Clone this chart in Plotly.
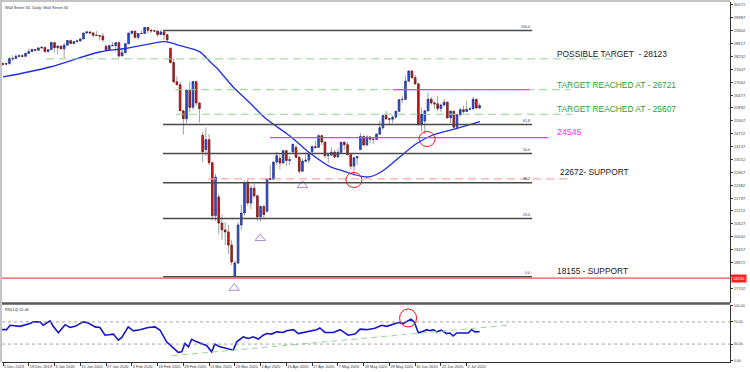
import plotly.graph_objects as go

# ---------------- data ----------------
bar_open = [27900, 27880, 27910, 28130, 28140, 28235, 28265, 28240, 28375, 28460,
            28550, 28515, 28620, 28645, 28460, 28540, 28860, 28630, 28700, 28580,
            28745, 28955, 28825, 28905, 28940, 29030, 29300, 29345, 29300, 29196,
            29180, 29160, 28700, 28540, 28725, 28730, 28860, 28260, 28400, 28810,
            29290, 29380, 29100, 29280, 29280, 29550, 29420, 29400, 29390, 29230,
            29350, 29220, 28600, 27960, 27080, 26950, 25760, 25400, 26700, 25920,
            27090, 26120, 24650, 24000, 24450, 23400, 21000, 21850, 20660, 20350,
            20260, 19660, 18260, 18845, 20573, 21118, 22527, 21573, 22250, 21900,
            20944, 21413, 21200, 22680, 22654, 23434, 23600, 23390, 23950, 23505,
            23900, 24100, 23650, 23019, 23475, 23516, 23900, 24134, 24101, 24634,
            24346, 23724, 23750, 23883, 23664, 23875, 24331, 24221, 23765, 23248,
            23625, 24000, 24597, 24207, 24576, 24474, 24465, 24700, 24995, 25548,
            25401, 25383, 25475, 25742, 26270, 26282, 27111, 27572, 27272, 26990,
            25128, 25300, 25763, 26290, 26120, 26080, 25871, 26025, 26156, 25446,
            25745, 25016, 25596, 25813, 25735, 25827, 25850, 26287, 25890]
bar_high = [27960, 27950, 28225, 28290, 28340, 28320, 28330, 28380, 28590, 28580,
            28570, 28630, 28700, 28660, 28550, 28880, 28870, 28720, 28730, 28860,
            28980, 29010, 28910, 29010, 29060, 29300, 29370, 29360, 29340, 29390,
            29200, 29310, 28760, 28780, 28890, 28890, 28900, 28570, 28850, 29320,
            29410, 29390, 29280, 29420, 29570, 29560, 29460, 29440, 29400, 29450,
            29400, 29230, 28640, 28150, 27330, 27100, 25800, 26710, 27100, 27100,
            27100, 26130, 24800, 25000, 24700, 23450, 22900, 22000, 21050, 20700,
            20570, 19900, 18950, 20700, 21500, 22600, 22650, 22400, 22450, 21950,
            21480, 21500, 22700, 23300, 23450, 23900, 23780, 24000, 23980, 23700,
            24260, 24200, 23700, 23600, 23900, 23800, 24200, 24400, 24700, 24650,
            24350, 23800, 24100, 24000, 24050, 24350, 24370, 24350, 23800, 23700,
            23700, 24750, 24650, 24650, 24600, 24500, 24750, 25300, 25600, 25750,
            25450, 25550, 25750, 26300, 26450, 27330, 27580, 27600, 27400, 27000,
            25900, 25800, 26600, 26400, 26200, 26450, 26100, 26300, 26160, 25800,
            25750, 25600, 25900, 26000, 26200, 25950, 26400, 26300, 26100]
bar_low = [27820, 27830, 27860, 28030, 28135, 28200, 28200, 28220, 28370, 28450,
           28480, 28510, 28600, 28400, 28380, 28530, 28420, 28340, 28560, 28150,
           28740, 28800, 28780, 28880, 28900, 29020, 29270, 29280, 29100, 29170,
           28950, 28890, 28440, 28500, 28700, 28450, 28170, 28250, 28390, 28800,
           29220, 29050, 29000, 29240, 29270, 29300, 29320, 29330, 29140, 29220,
           28990, 28860, 27900, 27020, 26880, 25760, 24680, 25200, 25700, 25800,
           25980, 25230, 23430, 23700, 23300, 20800, 20750, 20150, 19900, 19650,
           19250, 18750, 18209, 18800, 20350, 21000, 21450, 21300, 21800, 20750,
           20735, 20860, 21150, 22600, 22600, 23300, 23100, 23350, 23250, 23300,
           23850, 23600, 22900, 23000, 23400, 23380, 23850, 24050, 24100, 24200,
           23600, 23400, 23700, 23600, 23660, 23860, 24000, 23750, 23100, 22800,
           23300, 23980, 24180, 24200, 24300, 24250, 24460, 24700, 24900, 25350,
           25100, 25200, 25400, 25740, 26100, 26280, 27100, 27200, 26950, 25100,
           24843, 24700, 25750, 26050, 25850, 25750, 25700, 25950, 25400, 25200,
           24950, 24900, 25500, 25650, 25700, 25780, 25840, 25880, 25850]
bar_close = [27881, 27911, 28132, 28135, 28235, 28267, 28239, 28377, 28455, 28551,
             28515, 28621, 28645, 28462, 28538, 28868, 28634, 28703, 28583, 28745,
             28956, 28824, 28907, 28940, 29030, 29298, 29348, 29300, 29196, 29186,
             29160, 28990, 28536, 28723, 28734, 28859, 28256, 28400, 28808, 29290,
             29380, 29103, 29276, 29276, 29551, 29424, 29398, 29390, 29232, 29348,
             29219, 28992, 27961, 27081, 26957, 25767, 25409, 26703, 25917, 27091,
             26121, 25865, 23900, 24450, 23400, 21000, 22750, 20660, 20350, 20260,
             19660, 18890, 18845, 20573, 21118, 22482, 21573, 22250, 21900, 20944,
             21413, 21053, 22680, 22654, 23434, 23719, 23390, 23950, 23505, 23538,
             24242, 23650, 23019, 23475, 23516, 23775, 24134, 24101, 24634, 24346,
             23724, 23750, 23883, 23664, 23875, 24331, 24221, 23765, 23248, 23625,
             23685, 24597, 24207, 24576, 24474, 24465, 24700, 24995, 25548, 25401,
             25383, 25475, 25742, 26270, 26282, 27111, 27572, 27272, 26990, 25128,
             25606, 25763, 26290, 26120, 26080, 25871, 26025, 26156, 25446, 25745,
             25016, 25596, 25813, 25735, 25827, 25850, 26287, 25890, 26000]
bar_index = list(range(len(bar_close)))

ma_index = [0, 14.6, 30, 38, 45.7, 50.3, 55, 61, 64.3, 66.4, 71.5, 76.7, 81.4,
            89.1, 95.3, 101.6, 104.7, 107.8, 111.8, 114, 118, 123.3, 128.6, 133.5,
            141, 148.1]
ma_value = [27300, 27754, 28436, 28595, 28800, 28904, 28722, 28450, 27995, 27708,
            26845, 26118, 25436, 24618, 23845, 23223, 23073, 22923, 22768, 22768,
            23041, 23677, 24286, 24663, 24968, 25268]

rsi_index = [-0.9, 1.1, 2.2, 5.3, 8.4, 9.4, 11.5, 12.5, 14.6, 15.6, 17.2, 19.3, 20.8,
             22.4, 24.9, 26.5, 28.6, 30.1, 31.7, 33.2, 34.3, 35.8, 36.9, 38.9, 40.5,
             42.5, 45.1, 47.2, 48.8, 50.8, 52.9, 54.4, 55.5, 56.5, 57.6, 58.6, 60.2,
             61.7, 63.3, 64.8, 65.8, 67.4, 69.5, 71.5, 72.6, 74.6, 76.2, 77.7, 79.3,
             80.8, 81.9, 83.4, 85.0, 87.0, 88.1, 90.2, 91.7, 94.3, 97.4, 98.4, 100.0,
             102.6, 104.7, 107.2, 109.3, 110.9, 112.9, 115.5, 117.6, 119.2, 120.7,
             122.8, 124.3, 125.9, 126.7, 127.7, 129.0, 130.0, 131.6, 132.6, 133.6,
             134.7, 136.2, 137.8, 138.8, 139.8, 140.9, 142.5, 144.5, 145.5, 146.6, 148.0]
rsi_value = [56, 56, 64, 62, 67, 70, 70, 64, 72, 62, 50.5, 65, 60, 62, 70, 68, 61, 60,
             46, 47, 48, 37, 42, 61, 54, 56, 60, 61, 55, 34, 22, 15, 16, 31, 25, 38.6,
             34, 30, 27, 16, 30, 25, 22, 19, 34, 43, 40, 43, 39, 46, 49, 48, 52, 51,
             54, 56, 49, 52, 56, 59, 51, 51, 56, 46, 48, 57, 56, 58.5, 64, 62, 65, 69,
             67, 73, 75, 70, 50.5, 52, 56, 54, 56, 52, 55, 49, 50, 44.6, 50, 50, 50,
             56, 52, 52.46]

date_tick_index = [0, 8, 16, 24, 32, 40, 48, 56, 64, 72, 80, 88, 96, 104, 112, 120,
                   128, 136, 144]
date_tick_label = ["5 Dec 2019", "19 Dec 2019", "3 Jan 2020", "15 Jan 2020",
                   "27 Jan 2020", "6 Feb 2020", "18 Feb 2020", "28 Feb 2020",
                   "11 Mar 2020", "23 Mar 2020", "2 Apr 2020", "16 Apr 2020",
                   "27 Apr 2020", "7 May 2020", "19 May 2020", "29 May 2020",
                   "10 Jun 2020", "22 Jun 2020", "2 Jul 2020"]

price_ticks = [30572, 29987, 29402, 28817, 28232, 27647, 27062, 26477, 25892, 25307,
               24722, 24137, 23552, 22967, 22382, 21797, 21212, 20627, 20042, 19457,
               18872, 18287, 17702]
price_tick_label = ["30572", "29987", "29402", "28817", "28232", "27647", "27062",
                    "26477", "25892", "25307", "24722", "24137", "23552", "22967",
                    "22382", "21797", "21212", "20627", "20042", "19457", "18872",
                    "", "17702"]  # 18287 is hidden behind the red price box
rsi_ticks = [0, 30, 70, 100]
rsi_tick_label = ["0.00", "30.00", "70.00", "100.00"]

fib_prices = [29410, 25137, 23817, 22497, 20864, 18224]
fib_labels = ["100.0", "61.8", "50.0", "38.2", "23.6", "0.0"]

target_possible = 28123
target_reached_1 = 26721
target_reached_2 = 25607
level_24545 = 24545
support_22672 = 22672
support_18155 = 18155

rsi_trend_index = [52.5, 157.5]
rsi_trend_value = [9, 64.4]

triangle_index = [71.8, 79.9, 93.0]
triangle_price = [17710, 19968, 22377]

circle_index = [109.0, 131.7]
circle_price = [22618, 24482]
rsi_circle_index = [125.8]
rsi_circle_value = [77.1]

# ---------------- figure ----------------
FONT = "Liberation Sans, Arial, sans-serif"
X_RANGE = [-0.31, 225.78]

fig = go.Figure()

# wicks (gray)
fig.add_trace(go.Candlestick(
    x=bar_index, open=bar_open, high=bar_high, low=bar_low, close=bar_close,
    xaxis="x", yaxis="y", whiskerwidth=0, hoverinfo="skip", showlegend=False,
    increasing=dict(line=dict(color="#a0a0a0", width=1), fillcolor="#a0a0a0"),
    decreasing=dict(line=dict(color="#a0a0a0", width=1), fillcolor="#a0a0a0")))
# bodies (coloured)
body_hi = [max(o, c) for o, c in zip(bar_open, bar_close)]
body_lo = [min(o, c) for o, c in zip(bar_open, bar_close)]
fig.add_trace(go.Candlestick(
    x=bar_index, open=bar_open, high=body_hi, low=body_lo, close=bar_close,
    xaxis="x", yaxis="y", whiskerwidth=0, hoverinfo="skip", showlegend=False,
    increasing=dict(line=dict(color="#1a2c9a", width=0.6), fillcolor="#2d55d6"),
    decreasing=dict(line=dict(color="#7a0a0a", width=0.6), fillcolor="#d41a1a")))

# moving average
fig.add_trace(go.Scatter(x=ma_index, y=ma_value, mode="lines", line_shape="spline",
                         line=dict(color="#1f2ee6", width=1.3), hoverinfo="skip",
                         showlegend=False, xaxis="x", yaxis="y"))

# triangles
fig.add_trace(go.Scatter(x=triangle_index, y=triangle_price, mode="markers",
                         marker=dict(symbol="triangle-up-open", size=9,
                                     color="#a98bd8", line=dict(width=1)),
                         hoverinfo="skip", showlegend=False, xaxis="x", yaxis="y"))

# RSI
fig.add_trace(go.Scatter(x=rsi_index, y=rsi_value, mode="lines",
                         line=dict(color="#1515cc", width=1.6), hoverinfo="skip",
                         showlegend=False, xaxis="x2", yaxis="y2"))
fig.add_trace(go.Scatter(x=rsi_trend_index, y=rsi_trend_value, mode="lines",
                         line=dict(color="#9ad69a", width=1, dash="6px,4px"),
                         hoverinfo="skip", showlegend=False, xaxis="x2", yaxis="y2"))

shapes = []
annotations = []

def hline(y, x0, x1, color, width=1, dash="solid", yref="y", xref="x"):
    shapes.append(dict(type="line", xref=xref, yref=yref, x0=x0, x1=x1, y0=y, y1=y,
                       line=dict(color=color, width=width, dash=dash), layer="above"))

# fib lines
for p, lab in zip(fib_prices, fib_labels):
    hline(p, 49.7, 164.3, "#4a4a4a", 1.5)
    annotations.append(dict(x=164.3, y=p, xref="x", yref="y", text=lab, showarrow=False,
                            xanchor="right", yanchor="bottom", yshift=0,
                            font=dict(family=FONT, size=3.6, color="#333")))

GREEN_LINE = "#8fd18f"
hline(target_possible, 13.4, 190.7, GREEN_LINE, 1, "8px,5px")
hline(target_reached_1, 53.4, 176.1, GREEN_LINE, 1, "8px,5px")
hline(target_reached_2, 53.7, 176.7, GREEN_LINE, 1, "8px,5px")
hline(target_reached_1, 121.1, 163.4, "#ff33ff", 1.2)
hline(level_24545, 82.9, 169.3, "#ff33ff", 1.2)
hline(support_22672, 63.7, 176.4, "#f7a8a8", 1.2, "8px,5px")
hline(support_18155, 0, 1, "#f05050", 1.2, xref="paper")

# RSI levels
hline(70, 0, 1, "#8a8a8a", 0.8, "dot", yref="y2", xref="paper")
hline(30, 0, 1, "#8a8a8a", 0.8, "dot", yref="y2", xref="paper")

# circles
for cx, cy in zip(circle_index, circle_price):
    shapes.append(dict(type="circle", xref="x", yref="y", xsizemode="pixel",
                       ysizemode="pixel", xanchor=cx, yanchor=cy, x0=-8, x1=8,
                       y0=-7.5, y1=7.5, line=dict(color="#f01818", width=1)))
for cx, cy in zip(rsi_circle_index, rsi_circle_value):
    shapes.append(dict(type="circle", xref="x2", yref="y2", xsizemode="pixel",
                       ysizemode="pixel", xanchor=cx, yanchor=cy, x0=-8.5, x1=8.5,
                       y0=-9, y1=9, line=dict(color="#f01818", width=1)))

# frame: left and top grey borders, panel separator
shapes.append(dict(type="line", xref="paper", yref="paper", x0=-0.0014, x1=-0.0014,
                   y0=0, y1=1.01, line=dict(color="#c4c4c4", width=2)))
shapes.append(dict(type="line", xref="paper", yref="paper", x0=-0.01, x1=1.0,
                   y0=1.0028, y1=1.0028, line=dict(color="#c4c4c4", width=2)))
shapes.append(dict(type="line", xref="paper", yref="paper", x0=0, x1=1,
                   y0=0.1625, y1=0.1625, line=dict(color="#5a5a5a", width=2.5)))

# texts
def label(text, x, y, color, size=8.4):
    annotations.append(dict(x=x, y=y, xref="x", yref="y", text=text, showarrow=False,
                            xanchor="left", yanchor="middle",
                            font=dict(family=FONT, size=size, color=color)))

label("POSSIBLE TARGET  - 28123", 171.4, 28345, "#222222")
label("TARGET REACHED AT - 26721", 171.4, 26936, "#2f9e2f")
label("TARGET REACHED AT - 25607", 171.4, 25859, "#2f9e2f")
label("24545", 171.4, 24813, "#ff33ff", 8.8)
label("22672- SUPPORT", 172.3, 22982, "#222222")
label("18155 - SUPPORT", 171.4, 18482, "#222222")

annotations.append(dict(x=0, y=1, xref="paper", yref="paper", xshift=1, yshift=-1,
                        text="Wall Street 30, Daily: Wall Street 30", showarrow=False,
                        xanchor="left", yanchor="top",
                        font=dict(family=FONT, size=4, color="#333")))
annotations.append(dict(x=0, y=0.1597, xref="paper", yref="paper", xshift=1, yshift=-1,
                        text="RSI(14) 52.46", showarrow=False, xanchor="left",
                        yanchor="top", font=dict(family=FONT, size=3.8, color="#333")))
annotations.append(dict(x=1, y=support_18155, xref="paper", yref="y", xshift=1,
                        text="18155", showarrow=False, xanchor="left", yanchor="middle",
                        bgcolor="#ff2020", borderpad=1,
                        font=dict(family=FONT, size=4.2, color="#ffffff")))

fig.update_layout(
    width=750, height=372,
    margin=dict(l=2, r=20, t=2, b=10, autoexpand=False),
    paper_bgcolor="#ffffff", plot_bgcolor="#ffffff",
    showlegend=False,
    shapes=shapes, annotations=annotations,
    xaxis=dict(domain=[0, 1], range=X_RANGE, anchor="y", showticklabels=False,
               showgrid=False, zeroline=False, ticks="", showline=False,
               automargin=False, rangeslider=dict(visible=False)),
    xaxis2=dict(domain=[0, 1], range=X_RANGE, anchor="y2", tickvals=date_tick_index,
                ticktext=date_tick_label, ticks="outside", ticklen=3, tickwidth=1,
                tickcolor="#333", ticklabelposition="outside right", tickangle=0,
                tickfont=dict(family=FONT, size=3.9, color="#333"),
                showgrid=False, zeroline=False, showline=True, linecolor="#333",
                linewidth=1, automargin=False, rangeslider=dict(visible=False)),
    yaxis=dict(domain=[0.1639, 1], range=[17028, 30708], side="right", anchor="x",
               tickvals=price_ticks, ticktext=price_tick_label,
               ticks="outside", ticklen=2, tickcolor="#333",
               tickfont=dict(family=FONT, size=4.1, color="#444"),
               showgrid=False, zeroline=False, showline=True, linecolor="#333",
               linewidth=1, automargin=False),
    yaxis2=dict(domain=[0, 0.1597], range=[-2.35, 101.4], side="right", anchor="x2",
                tickvals=rsi_ticks, ticktext=rsi_tick_label, ticks="outside",
                ticklen=2, tickcolor="#333",
                tickfont=dict(family=FONT, size=3.6, color="#444"),
                showgrid=False, zeroline=False, showline=True, linecolor="#333",
                linewidth=1, automargin=False),
)

fig.write_html("out.html",
               config={"displayModeBar": False},
               post_script="document.body.style.margin='0px';"
                           "document.body.style.overflow='hidden';")
